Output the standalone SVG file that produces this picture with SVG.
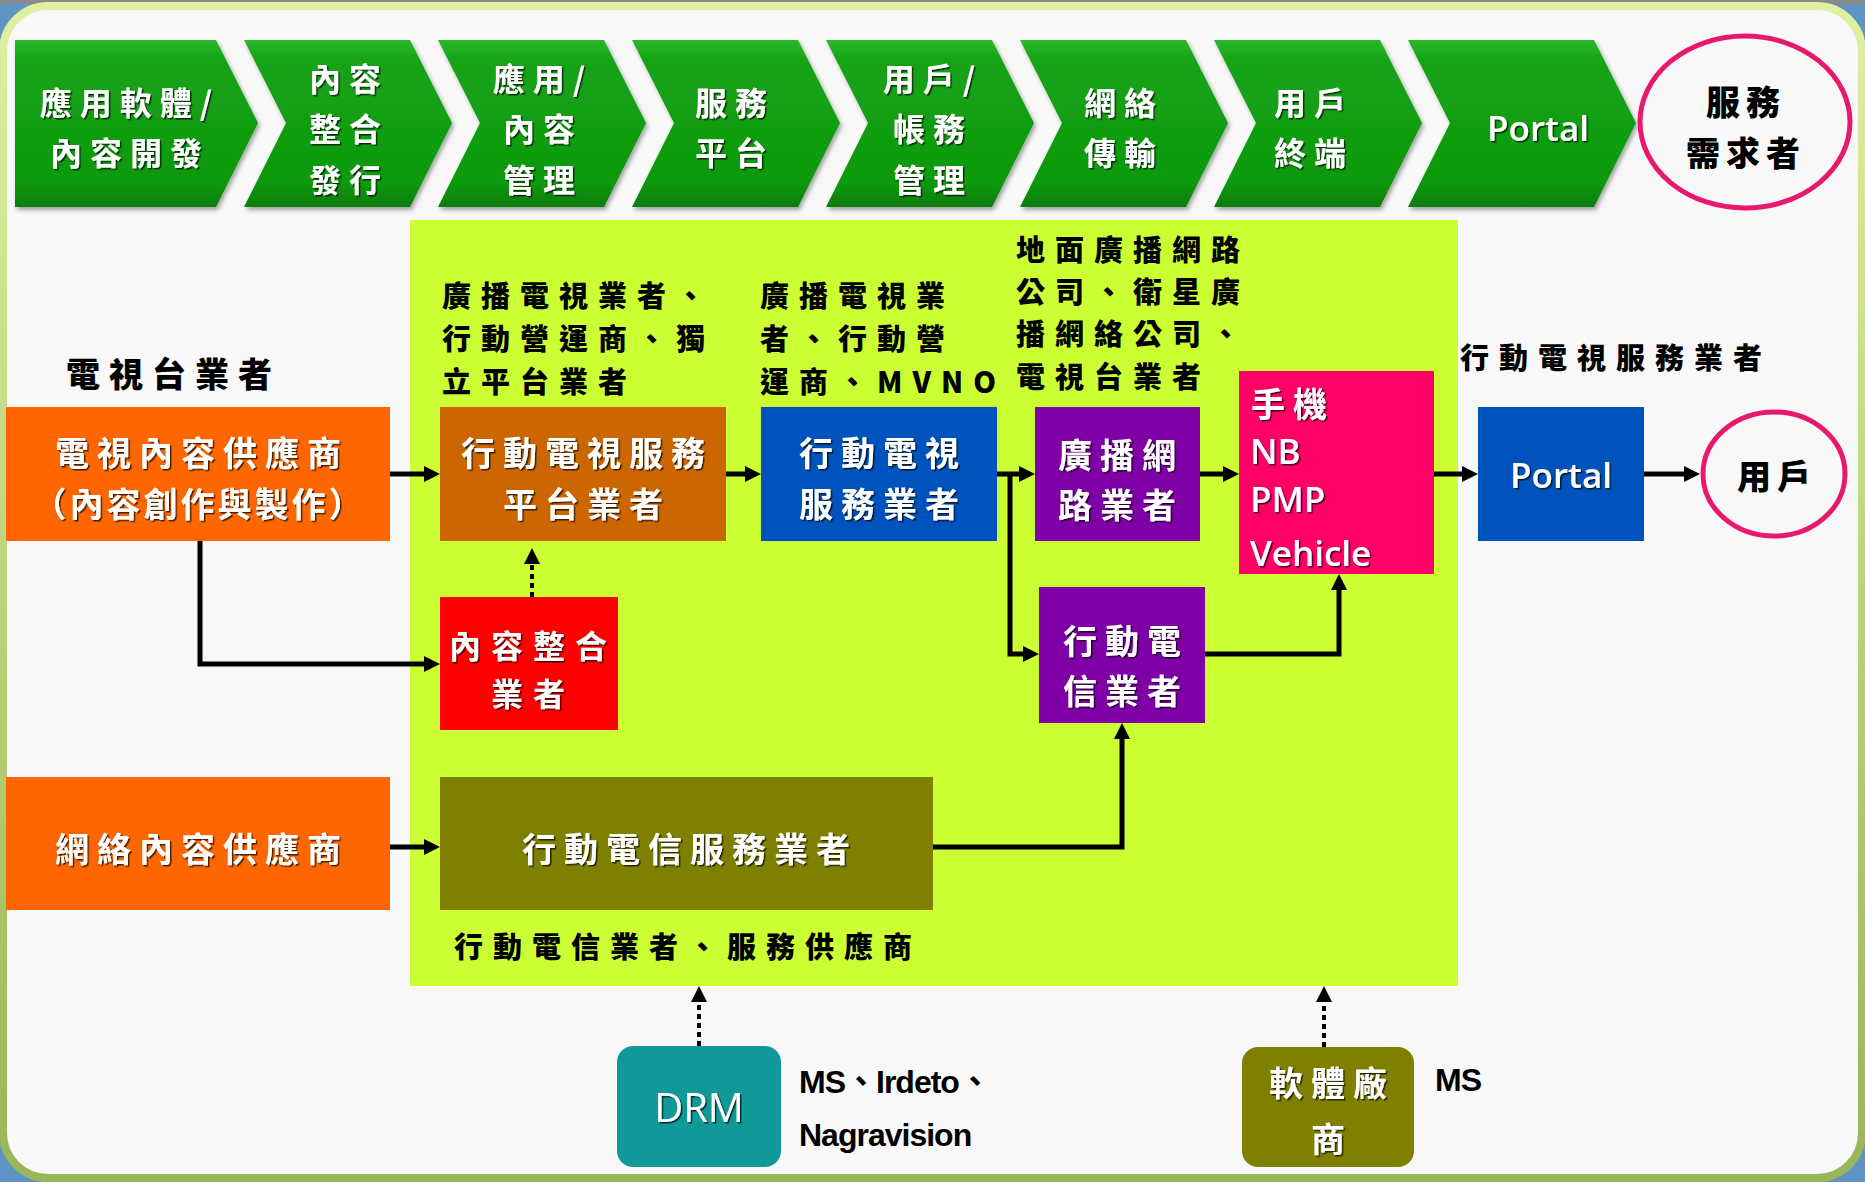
<svg xmlns="http://www.w3.org/2000/svg" width="1865" height="1182" viewBox="0 0 1865 1182">
<defs>
<style>
.cv{font-family:"Noto Sans CJK TC",sans-serif;font-weight:700;font-size:32px;letter-spacing:8px;fill:#fff;text-anchor:middle;dominant-baseline:central;filter:url(#ts)}
.bx{font-family:"Noto Sans CJK TC",sans-serif;font-weight:700;font-size:34px;letter-spacing:8px;fill:#fff;text-anchor:middle;dominant-baseline:central;filter:url(#ts)}
.en{font-family:"Open Sans","Liberation Sans",sans-serif;font-weight:600;font-size:35px;fill:#fff;dominant-baseline:central;filter:url(#ts)}
.lb{font-family:"Noto Sans CJK TC",sans-serif;font-weight:900;font-size:29px;letter-spacing:10px;fill:#000;dominant-baseline:central}
.lbm{font-family:"Liberation Sans","Noto Sans CJK TC",sans-serif;font-weight:700;font-size:32px;fill:#000;dominant-baseline:central;letter-spacing:-1px}
.blk{font-family:"Noto Sans CJK TC",sans-serif;font-weight:900;font-size:34px;letter-spacing:6px;fill:#000;text-anchor:middle;dominant-baseline:central}
.chev{fill:url(#gg);filter:url(#cs)}
.ln{fill:none;stroke:#000;stroke-width:5;marker-end:url(#ah)}
.dl{fill:none;stroke:#000;stroke-width:4;stroke-dasharray:5 4;marker-end:url(#ah)}
</style>
<linearGradient id="gg" x1="0" y1="0" x2="0" y2="1">
<stop offset="0" stop-color="#2cb82c"/>
<stop offset="0.12" stop-color="#14a314"/>
<stop offset="0.85" stop-color="#0f9a0f"/>
<stop offset="1" stop-color="#0a7c0a"/>
</linearGradient>
<linearGradient id="fr" x1="0" y1="0" x2="0" y2="1">
<stop offset="0" stop-color="#dff0a0"/>
<stop offset="1" stop-color="#98b658"/>
</linearGradient>
<filter id="ts" x="-10%" y="-20%" width="120%" height="140%">
<feDropShadow dx="1.5" dy="1.5" stdDeviation="0.7" flood-color="#000" flood-opacity="0.7"/>
</filter>
<filter id="cs" x="-5%" y="-5%" width="115%" height="115%">
<feDropShadow dx="2" dy="3" stdDeviation="2" flood-color="#000" flood-opacity="0.35"/>
</filter>
<marker id="ah" viewBox="0 0 16 16" refX="4" refY="8" markerWidth="16" markerHeight="16" markerUnits="userSpaceOnUse" orient="auto">
<path d="M0,0 L16,8 L0,16 z" fill="#000"/>
</marker>
</defs>

<!-- frame -->
<rect x="0" y="0" width="1865" height="1182" fill="#5f93c4"/>
<rect x="0" y="0" width="1865" height="4" fill="#8a8a8a"/>
<rect x="3" y="6" width="1859" height="1172" rx="45" ry="45" fill="#f8f8f8" stroke="url(#fr)" stroke-width="8"/>

<!-- yellow-green zone -->
<rect x="410" y="220" width="1048" height="766" fill="#ccff33"/>

<!-- value-chain chevrons -->
<g id="chev1"><polygon class="chev" points="15,40 216,40 258,123 216,207 15,207"/>
<text class="cv" x="130" y="101">應用軟體/</text><text class="cv" x="130" y="151">內容開發</text></g>
<g id="chev2"><polygon class="chev" points="244,40 410,40 452,123 410,207 244,207 286,123"/>
<text class="cv" x="349" y="77">內容</text><text class="cv" x="349" y="127">整合</text><text class="cv" x="349" y="178">發行</text></g>
<g id="chev3"><polygon class="chev" points="438,40 604,40 646,123 604,207 438,207 480,123"/>
<text class="cv" x="543" y="77">應用/</text><text class="cv" x="543" y="127">內容</text><text class="cv" x="543" y="178">管理</text></g>
<g id="chev4"><polygon class="chev" points="632,40 798,40 840,123 798,207 632,207 674,123"/>
<text class="cv" x="735" y="101">服務</text><text class="cv" x="735" y="151">平台</text></g>
<g id="chev5"><polygon class="chev" points="826,40 992,40 1034,123 992,207 826,207 868,123"/>
<text class="cv" x="933" y="77">用戶/</text><text class="cv" x="933" y="127">帳務</text><text class="cv" x="933" y="178">管理</text></g>
<g id="chev6"><polygon class="chev" points="1020,40 1186,40 1228,123 1186,207 1020,207 1062,123"/>
<text class="cv" x="1124" y="101">網絡</text><text class="cv" x="1124" y="151">傳輸</text></g>
<g id="chev7"><polygon class="chev" points="1214,40 1380,40 1422,123 1380,207 1214,207 1256,123"/>
<text class="cv" x="1314" y="101">用戶</text><text class="cv" x="1314" y="151">終端</text></g>
<g id="chev8"><polygon class="chev" points="1408,40 1594,40 1636,123 1594,207 1408,207 1450,123"/>
<text class="en" x="1538" y="127" text-anchor="middle">Portal</text></g>
<g id="demand"><ellipse cx="1745" cy="122" rx="105" ry="86" fill="none" stroke="#e8186c" stroke-width="5"/>
<text class="blk" x="1746" y="100">服務</text><text class="blk" x="1746" y="151">需求者</text></g>

<!-- labels -->
<g id="labels">
<text class="lb" x="66" y="372" style="font-size:34px;letter-spacing:9px">電視台業者</text>
<text class="lb" x="442" y="294">廣播電視業者、</text>
<text class="lb" x="442" y="337">行動營運商、獨</text>
<text class="lb" x="442" y="380">立平台業者</text>
<text class="lb" x="760" y="294">廣播電視業</text>
<text class="lb" x="760" y="337">者、行動營</text>
<text class="lb" x="760" y="380">運商、MVNO</text>
<text class="lb" x="1016" y="248">地面廣播網路</text>
<text class="lb" x="1016" y="290">公司、衛星廣</text>
<text class="lb" x="1016" y="332">播網絡公司、</text>
<text class="lb" x="1016" y="375">電視台業者</text>
<text class="lb" x="1460" y="356">行動電視服務業者</text>
<text class="lb" x="454" y="945">行動電信業者、服務供應商</text>
<text class="lbm" x="799" y="1082">MS、Irdeto、</text>
<text class="lbm" x="799" y="1135">Nagravision</text>
<text class="lbm" x="1435" y="1080">MS</text>
</g>

<!-- nodes -->
<g id="tv-content"><rect x="6" y="407" width="384" height="134" fill="#ff6600"/>
<text class="bx" x="202" y="451">電視內容供應商</text><text class="bx" x="199" y="502" style="letter-spacing:3px">（內容創作與製作）</text></g>
<g id="platform"><rect x="440" y="407" width="286" height="134" fill="#cc6600"/>
<text class="bx" x="587" y="451">行動電視服務</text><text class="bx" x="587" y="502">平台業者</text></g>
<g id="mtv-service"><rect x="761" y="407" width="236" height="134" fill="#0052bc"/>
<text class="bx" x="883" y="451">行動電視</text><text class="bx" x="883" y="502">服務業者</text></g>
<g id="broadcast"><rect x="1035" y="407" width="165" height="134" fill="#8000a8"/>
<text class="bx" x="1121" y="453">廣播網</text><text class="bx" x="1121" y="503">路業者</text></g>
<g id="terminal"><rect x="1239" y="371" width="195" height="203" fill="#ff0066"/>
<text class="bx" x="1251" y="402" style="text-anchor:start">手機</text>
<text class="en" x="1250" y="450">NB</text>
<text class="en" x="1250" y="498">PMP</text>
<text class="en" x="1250" y="552">Vehicle</text></g>
<g id="portal"><rect x="1478" y="407" width="166" height="134" fill="#0052bc"/>
<text class="en" x="1561" y="474" text-anchor="middle">Portal</text></g>
<g id="user"><ellipse cx="1774" cy="474" rx="71" ry="62" fill="none" stroke="#e8186c" stroke-width="5"/>
<text class="blk" x="1777" y="474">用戶</text></g>
<g id="telecom"><rect x="1039" y="587" width="166" height="136" fill="#8000a8"/>
<text class="bx" x="1126" y="639">行動電</text><text class="bx" x="1126" y="689">信業者</text></g>
<g id="integrator"><rect x="440" y="597" width="178" height="133" fill="#ff0000"/>
<text class="bx" x="533" y="644" style="font-size:32px;letter-spacing:10px">內容整合</text><text class="bx" x="533" y="692" style="font-size:32px;letter-spacing:10px">業者</text></g>
<g id="net-content"><rect x="6" y="777" width="384" height="133" fill="#ff6600"/>
<text class="bx" x="202" y="847">網絡內容供應商</text></g>
<g id="telecom-service"><rect x="440" y="777" width="493" height="133" fill="#808000"/>
<text class="bx" x="690" y="847">行動電信服務業者</text></g>
<g id="drm"><rect x="617" y="1046" width="164" height="121" rx="16" ry="16" fill="#119999"/>
<text class="en" x="699" y="1106" text-anchor="middle" style="font-size:40px;font-weight:400">DRM</text></g>
<g id="software"><rect x="1242" y="1047" width="172" height="120" rx="16" ry="16" fill="#808000"/>
<text class="bx" x="1332" y="1081">軟體廠</text><text class="bx" x="1332" y="1137">商</text></g>

<!-- connectors -->
<g id="connectors">
<path class="ln" d="M390,474 H428"/>
<path class="ln" d="M726,474 H749"/>
<path class="ln" d="M997,474 H1023"/>
<path class="ln" d="M1010,474 V654 H1027"/>
<path class="ln" d="M1200,474 H1227"/>
<path class="ln" d="M1205,654 H1339 V586"/>
<path class="ln" d="M1434,474 H1466"/>
<path class="ln" d="M1644,474 H1688"/>
<path class="ln" d="M200,541 V664 H428"/>
<path class="ln" d="M390,847 H428"/>
<path class="ln" d="M933,847 H1122 V735"/>
<path class="dl" d="M532,597 V560"/>
<path class="dl" d="M699,1046 V998"/>
<path class="dl" d="M1324,1047 V998"/>
</g>
</svg>
